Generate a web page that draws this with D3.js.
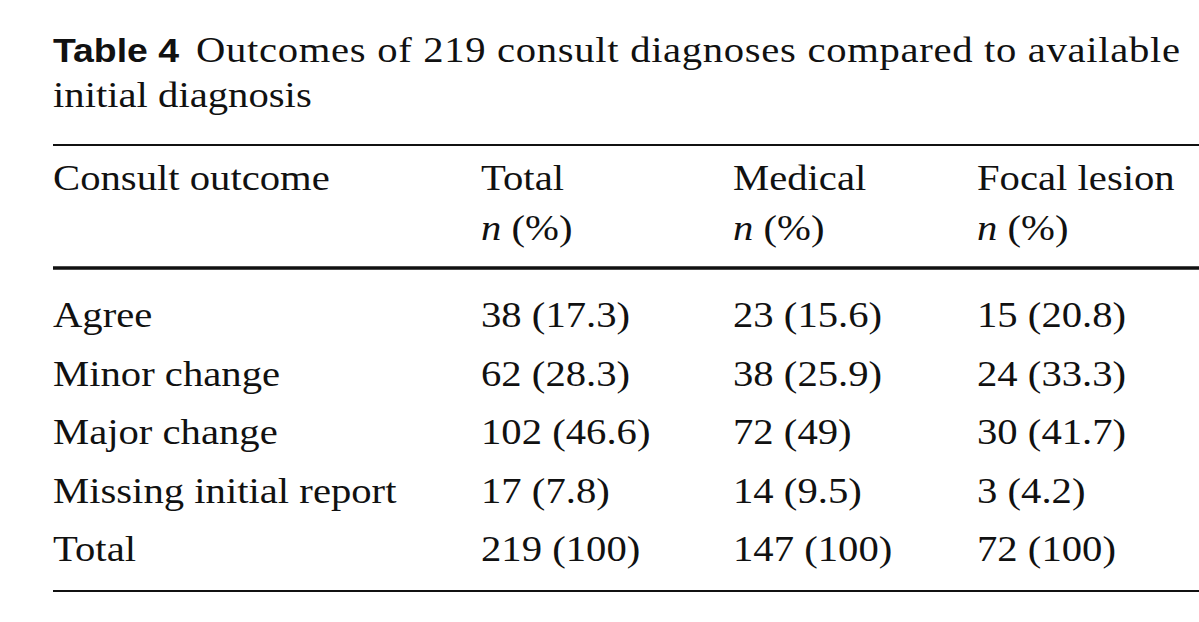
<!DOCTYPE html>
<html><head><meta charset="utf-8">
<script src="https://cdn.jsdelivr.net/npm/d3@7"></script>
<style>body{margin:0;background:#fff}</style>
</head><body>
<svg id="tbl"></svg>
<script>
const columns = ['Consult outcome', 'Total', 'Medical', 'Focal lesion'];
const subHeads = ['', 'n (%)', 'n (%)', 'n (%)'];
const rowLabels = ['Agree', 'Minor change', 'Major change', 'Missing initial report', 'Total'];
const totalVals = ['38 (17.3)', '62 (28.3)', '102 (46.6)', '17 (7.8)', '219 (100)'];
const medicalVals = ['23 (15.6)', '38 (25.9)', '72 (49)', '14 (9.5)', '147 (100)'];
const focalVals = ['15 (20.8)', '24 (33.3)', '30 (41.7)', '3 (4.2)', '72 (100)'];

const width = 1199, height = 622;
const serif = "'Liberation Serif', 'DejaVu Serif', serif";
const sx = 1.13;
const svg = d3.select('#tbl').attr('width', width).attr('height', height);

const x = d3.scaleOrdinal().domain(columns).range([53, 481, 733, 977]);
const y = d3.scalePoint().domain(rowLabels).range([327, 561]);

// text helper, stretched a bit horizontally to match the wider book face
const put = (xx, yy, size) => svg.append('text')
  .attr('transform', `translate(${xx},${yy}) scale(${sx},1)`)
  .style('font-family', serif).style('font-size', size + 'px').attr('fill', '#111');

// title
svg.append('text').attr('transform', `translate(53,62) scale(1.1,1)`)
  .style('font-family', "'Liberation Sans', Arial, sans-serif").style('font-weight', 'bold')
  .style('font-size', '34px').attr('fill', '#111').text('Table 4');
put(196, 62, 36).attr('textLength', 984 / sx).attr('lengthAdjust', 'spacing')
  .text('Outcomes of 219 consult diagnoses compared to available');
put(53, 107, 36).text('initial diagnosis');

// rules
[[145, 2], [268, 3.5], [591, 2]].forEach(([yy, w]) => {
  svg.append('line').attr('x1', 53).attr('x2', width).attr('y1', yy).attr('y2', yy)
    .attr('stroke', '#111').attr('stroke-width', w);
});

// header
columns.forEach((c, i) => {
  put(x(c), 190, 36).text(c);
  if (subHeads[i]) {
    const t = put(x(c), 240, 36);
    t.append('tspan').style('font-style', 'italic').text('n');
    t.append('tspan').text(' (%)');
  }
});

// body
const rows = rowLabels.map((r, i) => [r, totalVals[i], medicalVals[i], focalVals[i]]);
rows.forEach(row => {
  row.forEach((v, j) => {
    put(x(columns[j]), y(row[0]), 36).text(v);
  });
});
</script>
</body></html>
